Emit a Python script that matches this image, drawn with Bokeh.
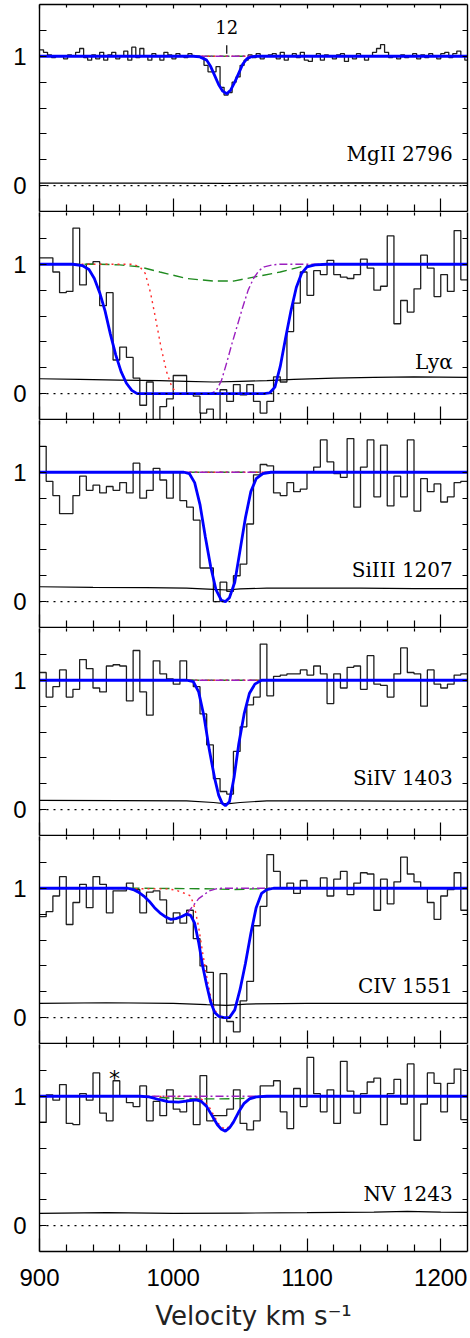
from bokeh.plotting import figure
from bokeh.models import Range1d, LinearAxis, FixedTicker, Span
from bokeh.layouts import column
from bokeh.embed import file_html
from bokeh.resources import INLINE
from bokeh.core.properties import value

# ---------------- data ----------------
X_MAJOR = [900, 1000, 1100, 1200]
X_MINOR = [920, 940, 960, 980, 1020, 1040, 1060, 1080, 1120, 1140, 1160, 1180]
Y_MAJOR = [0, 1]
Y_MINOR = [0.2, 0.4, 0.6, 0.8, 1.2]

LABELS = ["MgII 2796", "Lyα", "SiIII 1207", "SiIV 1403", "CIV 1551", "NV 1243"]

COS_EDGES = [900, 905, 910, 915, 920, 925, 930, 935, 940, 945, 950, 955, 960, 965, 970, 975,
             980, 985, 990, 995, 1000, 1005, 1010, 1015, 1020, 1025, 1030, 1035, 1040, 1045,
             1050, 1055, 1060, 1065, 1070, 1075, 1080, 1085, 1090, 1095, 1100, 1105, 1110,
             1115, 1120, 1125, 1130, 1135, 1140, 1145, 1150, 1155, 1160, 1165, 1170, 1175,
             1180, 1185, 1190, 1195, 1200, 1205, 1210, 1215, 1220]

MG_EDGES = [900, 903, 906, 909, 912, 915, 918, 921, 924, 927, 930, 933, 936, 939, 942, 945,
            948, 951, 954, 957, 960, 963, 966, 969, 972, 975, 978, 981, 984, 987, 990, 993,
            996, 999, 1002, 1005, 1008, 1011, 1014, 1017, 1020, 1023, 1026, 1029, 1032, 1035,
            1038, 1041, 1044, 1047, 1050, 1053, 1056, 1059, 1062, 1065, 1068, 1071, 1074,
            1077, 1080, 1083, 1086, 1089, 1092, 1095, 1098, 1101, 1104, 1107, 1110, 1113,
            1116, 1119, 1122, 1125, 1128, 1131, 1134, 1137, 1140, 1143, 1146, 1149, 1152,
            1155, 1158, 1161, 1164, 1167, 1170, 1173, 1176, 1179, 1182, 1185, 1188, 1191,
            1194, 1197, 1200, 1203, 1206, 1209, 1212, 1215, 1218, 1221]

MG_FLUX = [1.05, 1.03, 1.01, 0.99, 1.00, 1.00, 0.98, 1.01, 1.00, 1.03,
           1.06, 0.99, 0.97, 1.01, 0.98, 1.03, 0.97, 1.01, 1.03, 0.98,
           1.00, 1.04, 0.97, 1.07, 0.99, 1.06, 1.00, 0.97, 1.02, 1.00,
           0.97, 1.03, 1.01, 0.98, 1.02, 1.00, 0.99, 1.02, 1.00, 1.00,
           0.99, 0.93, 0.88, 0.88, 0.92, 0.76, 0.70, 0.72, 0.80, 0.84,
           0.93, 0.97, 1.01, 0.99, 1.02, 0.98, 1.00, 1.01, 1.02, 0.98,
           1.03, 0.97, 1.00, 1.02, 0.99, 1.03, 0.97, 0.96, 1.00, 1.02,
           0.97, 1.01, 1.00, 0.98, 1.01, 1.02, 0.96, 1.00, 0.98, 1.02,
           1.00, 0.97, 1.00, 1.03, 1.06, 1.09, 1.03, 0.99, 1.00, 0.98,
           1.01, 0.99, 1.00, 1.02, 0.98, 1.01, 0.99, 1.02, 1.00, 0.98,
           1.02, 1.03, 0.99, 1.02, 1.04, 1.00, 0.97]

LYA_FLUX = [1.05, 1.05, 0.94, 0.78, 0.79, 1.28, 0.84, 1.00, 1.02, 0.68,
            0.78, 0.26, 0.36, 0.28, 0.12, -0.09, 0.09, -0.22, -0.10, -0.04,
            0.14, 0.14, 0.00, -0.02, -0.15, -0.12, -0.22, 0.03, -0.06, 0.07,
            -0.01, 0.07, -0.06, -0.15, -0.06, 0.13, 0.09, 0.48, 0.70, 0.94,
            0.76, 0.95, 0.92, 1.03, 0.92, 0.90, 0.89, 0.92, 1.04, 0.97,
            0.80, 0.83, 1.22, 0.54, 0.72, 0.63, 0.81, 1.07, 0.97, 0.75,
            0.92, 0.79, 1.26, 0.88]

SI3_FLUX = [1.20, 0.93, 0.82, 0.68, 0.68, 0.82, 0.97, 0.86, 0.90, 0.84,
            0.89, 0.86, 0.92, 0.84, 1.07, 0.80, 0.86, 1.03, 0.94, 0.80,
            1.00, 0.78, 0.73, 0.63, 0.26, 0.26, 0.00, 0.15, 0.08, 0.20,
            0.29, 0.60, 0.98, 1.06, 1.05, 0.84, 0.82, 0.92, 0.85, 0.87,
            1.00, 1.04, 1.25, 1.08, 0.99, 0.96, 1.26, 0.73, 1.04, 1.25,
            0.81, 1.21, 0.74, 0.97, 0.81, 1.25, 0.70, 0.95, 0.85, 0.91,
            0.77, 0.81, 0.92, 0.93]

SI4_FLUX = [1.06, 0.87, 0.95, 1.08, 0.87, 0.93, 1.16, 1.09, 0.94, 0.91,
            1.11, 1.12, 1.11, 0.84, 1.23, 0.91, 0.73, 1.15, 1.05, 1.01,
            0.97, 1.15, 1.00, 0.95, 0.74, 0.50, 0.24, 0.14, 0.12, 0.45,
            0.64, 0.81, 0.87, 1.28, 0.88, 1.03, 1.04, 1.05, 1.05, 1.08,
            1.04, 1.11, 1.05, 0.82, 1.05, 0.94, 1.10, 1.11, 0.93, 1.19,
            0.97, 0.96, 0.87, 1.05, 1.25, 1.06, 1.05, 0.80, 1.08, 0.97,
            0.94, 0.97, 1.04, 1.05]

CIV_FLUX = [0.78, 0.82, 0.94, 1.09, 0.72, 0.89, 1.03, 0.85, 1.09, 1.03,
            0.81, 0.98, 0.98, 1.04, 0.99, 0.81, 0.97, 0.98, 0.91, 0.73,
            0.81, 0.73, 0.83, 0.61, 0.40, 0.35, -0.25, 0.34, -0.03, -0.11,
            0.13, 0.28, 0.71, 0.86, 1.26, 1.13, 1.00, 1.04, 0.96, 1.06,
            1.00, 1.00, 1.08, 0.94, 1.07, 1.13, 0.95, 1.04, 1.12, 1.11,
            0.83, 1.07, 0.88, 1.05, 1.24, 1.11, 1.05, 1.00, 0.89, 0.76,
            0.94, 0.99, 1.12, 0.83]

NV_FLUX = [0.80, 1.01, 0.97, 1.09, 0.79, 0.78, 1.02, 0.97, 1.18, 0.87,
           0.81, 1.12, 1.00, 0.95, 0.92, 1.08, 0.81, 0.96, 0.85, 1.05,
           0.90, 0.88, 0.97, 0.78, 1.16, 0.81, 0.85, 0.85, 0.90, 1.05,
           0.79, 0.74, 0.81, 1.08, 1.08, 1.12, 0.88, 0.75, 1.06, 0.92,
           1.30, 1.02, 0.88, 1.05, 0.79, 1.27, 1.04, 0.87, 1.02, 1.11,
           1.14, 0.78, 1.02, 1.13, 0.94, 1.25, 0.66, 0.94, 1.18, 1.10,
           0.88, 1.10, 1.21, 0.82]

# fitted profiles (blue) and components
MG_FIT_V = [900, 1015, 1020, 1025, 1028, 1031, 1034, 1037, 1040, 1043, 1046, 1049, 1052, 1055, 1058, 1062, 1220]
MG_FIT_F = [1.0, 1.0, 0.995, 0.97, 0.92, 0.85, 0.78, 0.73, 0.71, 0.74, 0.80, 0.87, 0.94, 0.98, 0.995, 1.0, 1.0]
FLAT_V = [900, 1220]
FLAT_F = [1.0, 1.0]

LYA_FIT_V = [900, 925, 932, 937, 941, 945, 949, 953, 957, 961, 965, 969, 973,
             1068, 1072, 1076, 1080, 1084, 1088, 1092, 1096, 1100, 1106, 1115, 1220]
LYA_FIT_F = [1.0, 1.0, 0.99, 0.96, 0.89, 0.78, 0.64, 0.46, 0.30, 0.17, 0.08, 0.025, 0.0,
             0.0, 0.005, 0.05, 0.21, 0.43, 0.64, 0.82, 0.93, 0.98, 0.995, 1.0, 1.0]
LYA_RED_V = [900, 970, 975, 979, 983, 987, 991, 995, 999, 1003,
             1068, 1072, 1076, 1080, 1084, 1088, 1092, 1096, 1100, 1106, 1115, 1220]
LYA_RED_F = [1.0, 1.0, 0.98, 0.93, 0.78, 0.57, 0.35, 0.17, 0.05, 0.0,
             0.0, 0.005, 0.05, 0.21, 0.43, 0.64, 0.82, 0.93, 0.98, 0.995, 1.0, 1.0]
LYA_PUR_V = [900, 925, 932, 937, 941, 945, 949, 953, 957, 961, 965, 969, 973,
             1028, 1032, 1036, 1040, 1044, 1048, 1052, 1056, 1060, 1064, 1068, 1074, 1080, 1220]
LYA_PUR_F = [1.0, 1.0, 0.99, 0.96, 0.89, 0.78, 0.64, 0.46, 0.30, 0.17, 0.08, 0.025, 0.0,
             0.0, 0.02, 0.10, 0.24, 0.39, 0.53, 0.67, 0.80, 0.89, 0.95, 0.98, 0.995, 1.0, 1.0]
LYA_GRN_V = [900, 945, 960, 975, 990, 1010, 1030, 1045, 1060, 1080, 1095, 1110, 1220]
LYA_GRN_F = [1.0, 1.0, 0.995, 0.98, 0.94, 0.89, 0.87, 0.87, 0.90, 0.94, 0.98, 1.0, 1.0]

SI3_FIT_V = [900, 1008, 1012, 1016, 1020, 1024, 1028, 1032, 1036, 1039, 1042, 1046, 1050, 1054, 1058, 1062, 1067, 1073, 1220]
SI3_FIT_F = [1.0, 1.0, 0.99, 0.92, 0.75, 0.50, 0.27, 0.09, 0.01, 0.0, 0.03, 0.15, 0.40, 0.65, 0.85, 0.95, 0.99, 1.0, 1.0]

SI4_FIT_V = [900, 1010, 1015, 1019, 1023, 1027, 1031, 1034, 1036.5, 1039, 1042, 1045.5, 1049, 1053, 1057, 1061, 1066, 1220]
SI4_FIT_F = [1.0, 1.0, 0.99, 0.91, 0.72, 0.46, 0.24, 0.11, 0.05, 0.03, 0.06, 0.25, 0.51, 0.74, 0.90, 0.97, 1.0, 1.0]

CIV_FIT_V = [900, 966, 970, 974, 978, 982, 986, 990, 994, 998, 1002, 1006, 1010, 1013, 1016, 1019,
             1022, 1025, 1028, 1031, 1034, 1038, 1042, 1046, 1050, 1054, 1058, 1062, 1066, 1070, 1075, 1220]
CIV_FIT_F = [1.0, 1.0, 0.99, 0.97, 0.94, 0.90, 0.85, 0.81, 0.78, 0.76, 0.765, 0.78, 0.80, 0.79, 0.73, 0.58,
             0.40, 0.25, 0.12, 0.04, 0.01, 0.0, 0.0, 0.06, 0.22, 0.42, 0.65, 0.85, 0.96, 0.99, 1.0, 1.0]
CIV_RED_V = [900, 996, 1002, 1006, 1010, 1013, 1016, 1019, 1022, 1025, 1028, 1031, 1034, 1038,
             1042, 1046, 1050, 1054, 1058, 1062, 1066, 1070, 1075, 1220]
CIV_RED_F = [1.0, 0.995, 0.985, 0.97, 0.955, 0.94, 0.85, 0.70, 0.50, 0.32, 0.16, 0.06, 0.015, 0.0,
             0.0, 0.06, 0.22, 0.42, 0.65, 0.85, 0.96, 0.99, 1.0, 1.0]
CIV_PUR_V = [900, 966, 970, 974, 978, 982, 986, 990, 994, 998, 1002, 1006, 1010, 1013, 1016, 1019,
             1023, 1027, 1032, 1036, 1220]
CIV_PUR_F = [1.0, 1.0, 0.99, 0.97, 0.94, 0.90, 0.85, 0.81, 0.78, 0.76, 0.765, 0.78, 0.80, 0.84, 0.88, 0.92,
             0.95, 0.98, 0.995, 1.0, 1.0]
CIV_GRN_V = [900, 970, 1000, 1030, 1045, 1060, 1080, 1220]
CIV_GRN_F = [1.0, 1.0, 0.998, 0.995, 0.99, 0.995, 1.0, 1.0]

NV_FIT_V = [900, 975, 982, 989, 996, 1004, 1011, 1017, 1021, 1025, 1029, 1033, 1036, 1039, 1042, 1045,
            1049, 1053, 1057, 1062, 1070, 1220]
NV_FIT_F = [1.0, 1.0, 0.995, 0.975, 0.958, 0.955, 0.965, 0.972, 0.96, 0.92, 0.85, 0.78, 0.745, 0.73, 0.755, 0.80,
            0.88, 0.945, 0.98, 0.995, 1.0, 1.0]
NV_RED_V = [900, 1015, 1019, 1023, 1027, 1031, 1035, 1039, 1043, 1047, 1051, 1055, 1059, 1065, 1220]
NV_RED_F = [1.0, 0.998, 0.99, 0.965, 0.915, 0.84, 0.77, 0.745, 0.775, 0.845, 0.92, 0.965, 0.99, 1.0, 1.0]
NV_GRN_V = [900, 975, 990, 1005, 1020, 1035, 1050, 1060, 1075, 1220]
NV_GRN_F = [1.0, 1.0, 0.99, 0.982, 0.98, 0.98, 0.982, 0.99, 1.0, 1.0]

# error spectra
MG_ERR_V = [900, 960, 1000, 1040, 1080, 1140, 1220]
MG_ERR_F = [0.02, 0.02, 0.02, 0.018, 0.02, 0.021, 0.02]
LYA_ERR_V = [900, 930, 960, 990, 1010, 1030, 1050, 1070, 1090, 1120, 1150, 1180, 1220]
LYA_ERR_F = [0.115, 0.11, 0.105, 0.10, 0.095, 0.09, 0.095, 0.10, 0.11, 0.12, 0.125, 0.13, 0.125]
SI3_ERR_V = [900, 940, 980, 1010, 1030, 1040, 1050, 1070, 1100, 1140, 1180, 1220]
SI3_ERR_F = [0.115, 0.11, 0.108, 0.105, 0.095, 0.09, 0.098, 0.105, 0.105, 0.105, 0.10, 0.10]
SI4_ERR_V = [900, 960, 1010, 1030, 1040, 1050, 1070, 1120, 1170, 1220]
SI4_ERR_F = [0.072, 0.07, 0.068, 0.055, 0.045, 0.055, 0.068, 0.068, 0.065, 0.065]
CIV_ERR_V = [900, 950, 1000, 1025, 1040, 1055, 1100, 1150, 1220]
CIV_ERR_F = [0.11, 0.115, 0.11, 0.10, 0.095, 0.105, 0.11, 0.11, 0.11]
NV_ERR_V = [900, 950, 1000, 1050, 1100, 1150, 1175, 1200, 1220]
NV_ERR_F = [0.095, 0.10, 0.095, 0.097, 0.10, 0.105, 0.11, 0.105, 0.103]

# annotations
COMP_MARK_V = 1040
COMP_MARK_TEXT = "12"
STAR_V = 956
STAR_TEXT = "*"

# ---------------- styling ----------------
BLUE = "#0000ff"
GREEN = "#1f8a1f"
RED = "#ff2a2a"
PURPLE = "#9b1fbf"
HIST = "#1e1e1e"

FRAME_W = 428
FRAME_H = 207

x_range = Range1d(900, 1220)


def make_axis(ticker, tick_in, minor_in, labels=False, line=True):
    ax = LinearAxis(ticker=ticker)
    if line:
        ax.axis_line_color = "black"
        ax.axis_line_width = 1.4
    else:
        ax.axis_line_color = None
    ax.major_tick_in = tick_in
    ax.major_tick_out = 0
    ax.minor_tick_in = minor_in
    ax.minor_tick_out = 0
    ax.major_tick_line_color = "black"
    ax.minor_tick_line_color = "black"
    ax.major_tick_line_width = 1.2
    ax.minor_tick_line_width = 1.2
    if labels:
        ax.major_label_text_font = "Liberation Sans"
        ax.major_label_text_font_size = "24px"
        ax.major_label_text_color = "black"
    else:
        ax.major_label_text_color = None
        ax.major_label_text_font_size = "0px"
        ax.major_label_standoff = 0
    return ax


def panel(edges, flux, fit_v, fit_f, err_v, err_f, comps, label, first=False, last=False):
    p = figure(frame_width=FRAME_W, frame_height=FRAME_H, x_range=x_range,
               y_range=Range1d(-0.2, 1.4), x_axis_type=None, y_axis_type=None,
               output_backend="svg", toolbar_location=None,
               min_border_left=39, min_border_right=3,
               min_border_top=4 if first else 0, min_border_bottom=0 if last else 1)
    p.outline_line_color = None
    p.background_fill_color = "white"
    p.border_fill_color = "white"

    below = make_axis(FixedTicker(ticks=X_MAJOR, minor_ticks=X_MINOR), 13, 7, labels=last)
    if last:
        below.major_label_standoff = 17
        below.axis_label = "Velocity km s⁻¹"
        below.axis_label_text_font = "DejaVu Sans"
        below.axis_label_text_font_size = "26px"
        below.axis_label_text_font_style = "normal"
        below.axis_label_text_color = "#222222"
        below.axis_label_standoff = 12
    p.add_layout(below, "below")
    p.add_layout(make_axis(FixedTicker(ticks=X_MAJOR, minor_ticks=X_MINOR), 4, 3, line=first), "above")
    left = make_axis(FixedTicker(ticks=Y_MAJOR, minor_ticks=Y_MINOR), 7, 7, labels=True)
    left.major_label_standoff = 13
    p.add_layout(left, "left")
    p.add_layout(make_axis(FixedTicker(ticks=Y_MAJOR, minor_ticks=Y_MINOR), 5, 5), "right")

    p.add_layout(Span(location=0, dimension="width", line_color="black",
                      line_width=1.1, line_dash="2 5"))

    p.step(x=edges, y=flux + [flux[-1]], mode="after", line_color=HIST, line_width=1.3)
    p.line(err_v, err_f, line_color="black", line_width=1.2)

    for (cv, cf, color, dash) in comps:
        p.line(cv, cf, line_color=color, line_width=1.4, line_dash=dash)

    p.line(fit_v, fit_f, line_color=BLUE, line_width=2.8)

    p.text(x=[1209], y=[0.245], text=[label], text_font=value("DejaVu Serif"),
           text_font_size="20px", text_align="right", text_baseline="alphabetic",
           text_color="black")
    return p


def flat_comps():
    return [(FLAT_V, FLAT_F, GREEN, "10 5"),
            (FLAT_V, FLAT_F, RED, "2 4"),
            (FLAT_V, FLAT_F, PURPLE, "8 3 2 3")]


p1 = panel(MG_EDGES, MG_FLUX, MG_FIT_V, MG_FIT_F, MG_ERR_V, MG_ERR_F, flat_comps(), LABELS[0], first=True)
p1.segment(x0=[COMP_MARK_V], y0=[1.02], x1=[COMP_MARK_V], y1=[1.085], line_color="black", line_width=1.2)
p1.text(x=[COMP_MARK_V], y=[1.225], text=[COMP_MARK_TEXT], text_font=value("DejaVu Serif"),
        text_font_size="18px", text_align="center", text_baseline="alphabetic", text_color="black")

p2 = panel(COS_EDGES, LYA_FLUX, LYA_FIT_V, LYA_FIT_F, LYA_ERR_V, LYA_ERR_F,
           [(LYA_GRN_V, LYA_GRN_F, GREEN, "10 5"),
            (LYA_RED_V, LYA_RED_F, RED, "2 4"),
            (LYA_PUR_V, LYA_PUR_F, PURPLE, "8 3 2 3")], LABELS[1])
p3 = panel(COS_EDGES, SI3_FLUX, SI3_FIT_V, SI3_FIT_F, SI3_ERR_V, SI3_ERR_F, flat_comps(), LABELS[2])
p4 = panel(COS_EDGES, SI4_FLUX, SI4_FIT_V, SI4_FIT_F, SI4_ERR_V, SI4_ERR_F, flat_comps(), LABELS[3])
p5 = panel(COS_EDGES, CIV_FLUX, CIV_FIT_V, CIV_FIT_F, CIV_ERR_V, CIV_ERR_F,
           [(CIV_GRN_V, CIV_GRN_F, GREEN, "10 5"),
            (CIV_RED_V, CIV_RED_F, RED, "2 4"),
            (CIV_PUR_V, CIV_PUR_F, PURPLE, "8 3 2 3")], LABELS[4])
p6 = panel(COS_EDGES, NV_FLUX, NV_FIT_V, NV_FIT_F, NV_ERR_V, NV_ERR_F,
           [(NV_GRN_V, NV_GRN_F, GREEN, "10 5"),
            (NV_RED_V, NV_RED_F, RED, "2 4"),
            (FLAT_V, FLAT_F, PURPLE, "8 3 2 3")], LABELS[5], last=True)
p6.text(x=[STAR_V], y=[1.14], text=[STAR_TEXT], text_font=value("DejaVu Sans"),
        text_font_size="22px", text_align="center", text_baseline="alphabetic", text_color="black")

layout = column(p1, p2, p3, p4, p5, p6, spacing=0)

open("out.html", "w").write(file_html(layout, INLINE))
